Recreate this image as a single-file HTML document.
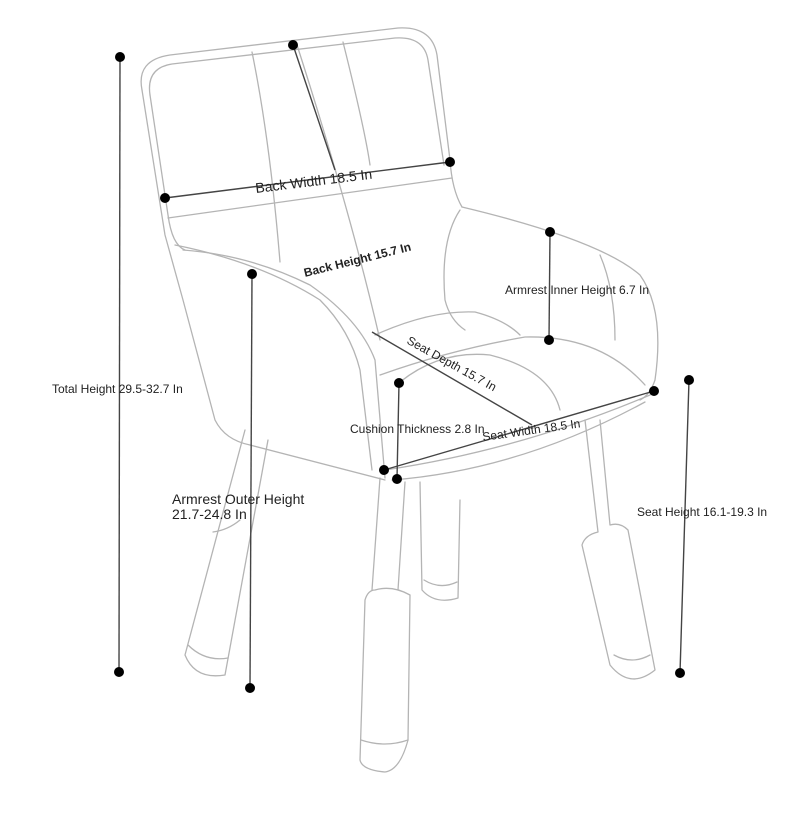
<!DOCTYPE html>
<html><head><meta charset="utf-8"><style>
html,body{margin:0;padding:0;background:#fff;}
svg{display:block;}
text{font-family:"Liberation Sans",sans-serif;fill:#222;}
</style></head><body>
<svg width="800" height="814" viewBox="0 0 800 814" xmlns="http://www.w3.org/2000/svg">
<g fill="none" stroke="#b4b4b4" stroke-width="1.3" stroke-linecap="round" stroke-linejoin="round">
<!-- back outer -->
<path d="M142,90 Q136,60 170,55 L398,28 Q432,26 437,55 L450,160 Q452,190 462,207"/>
<!-- back inner -->
<path d="M150,95 Q146,68 172,64 L395,38 Q424,36 428,60 L444,165"/>
<!-- left side outer -->
<path d="M142,90 L165,235 L183,300 L215,420 Q225,440 250,445 L385,480"/>
<path d="M150,95 L168,215 Q172,245 185,250"/>
<!-- back lower seam -->
<path d="M168,218 L452,178"/>
<!-- vertical seams -->
<path d="M252,52 Q270,140 280,262"/>
<path d="M343,42 Q365,130 370,165"/>
<path d="M297,45 Q350,210 380,340"/>
<!-- left arm -->
<path d="M183,250 Q250,255 310,285 Q360,320 375,360 L385,478"/>
<path d="M175,245 Q260,262 320,300 Q350,330 360,370 L372,470"/>
<!-- right arm -->
<path d="M462,207 Q600,240 640,275 Q665,310 655,380 Q650,395 640,400"/>
<path d="M460,210 Q440,240 445,300 Q450,320 465,330"/>
<path d="M600,255 Q615,290 615,340"/>
<!-- seat cushion -->
<path d="M375,335 Q430,310 475,312 Q505,320 520,335"/>
<path d="M380,375 Q450,350 525,337 Q600,335 645,385"/>
<path d="M400,382 Q440,350 490,355 Q550,370 560,410"/>
<path d="M385,470 Q520,450 650,395"/>
<path d="M392,480 Q520,470 645,402"/>
<!-- back left leg -->
<path d="M245,430 L185,655 Q195,680 225,675 L268,440"/>
<path d="M188,645 Q205,662 228,658"/>
<path d="M240,520 Q228,530 213,532"/>
<!-- front left leg -->
<path d="M380,478 L372,590"/>
<path d="M405,482 L398,590"/>
<path d="M375,590 Q392,585 410,595 L408,740 Q400,770 385,772 Q362,770 360,760 L365,600 Q368,590 375,590"/>
<path d="M361,740 Q385,748 408,740"/>
<!-- middle leg -->
<path d="M420,482 L422,590 Q435,605 458,598 L460,500"/>
<path d="M424,580 Q440,590 457,582"/>
<!-- right back leg -->
<path d="M585,420 L598,532 Q585,535 582,545 L610,665 Q630,690 655,670 L628,530 Q620,522 610,525 L600,420"/>
<path d="M614,655 Q632,665 650,655"/>
</g>
<g stroke="#444" stroke-width="1.4" fill="none">
<line x1="120" y1="57" x2="119" y2="672"/>
<line x1="252" y1="274" x2="250" y2="688"/>
<line x1="165" y1="198" x2="450" y2="162"/>
<line x1="293" y1="45" x2="335" y2="170"/>
<line x1="550" y1="232" x2="549" y2="340"/>
<line x1="372" y1="332" x2="532" y2="425"/>
<line x1="384" y1="470" x2="654" y2="391"/>
<line x1="399" y1="383" x2="397" y2="479"/>
<line x1="689" y1="380" x2="680" y2="673"/>
</g>
<g fill="#000">
<circle cx="120" cy="57" r="5"/><circle cx="119" cy="672" r="5"/>
<circle cx="252" cy="274" r="5"/><circle cx="250" cy="688" r="5"/>
<circle cx="165" cy="198" r="5"/><circle cx="450" cy="162" r="5"/>
<circle cx="293" cy="45" r="5"/>
<circle cx="550" cy="232" r="5"/><circle cx="549" cy="340" r="5"/>
<circle cx="384" cy="470" r="5"/><circle cx="654" cy="391" r="5"/>
<circle cx="399" cy="383" r="5"/><circle cx="397" cy="479" r="5"/>
<circle cx="689" cy="380" r="5"/><circle cx="680" cy="673" r="5"/>
</g>
<text x="256" y="193" font-size="14" transform="rotate(-7 256 193)">Back Width 18.5 In</text>
<text x="305" y="277" font-size="12" font-weight="bold" transform="rotate(-14 305 277)">Back Height 15.7 In</text>
<text x="505" y="294" font-size="12">Armrest Inner Height 6.7 In</text>
<text x="406" y="343" font-size="12" transform="rotate(29 406 343)">Seat Depth 15.7 In</text>
<text x="483" y="441" font-size="12" transform="rotate(-8 483 441)">Seat Width 18.5 In</text>
<text x="350" y="433" font-size="12">Cushion Thickness 2.8 In</text>
<text x="52" y="393" font-size="12">Total Height 29.5-32.7 In</text>
<text x="172" y="504" font-size="14">Armrest Outer Height</text>
<text x="172" y="519" font-size="14">21.7-24.8 In</text>
<text x="637" y="516" font-size="12">Seat Height 16.1-19.3 In</text>
</svg>
</body></html>
